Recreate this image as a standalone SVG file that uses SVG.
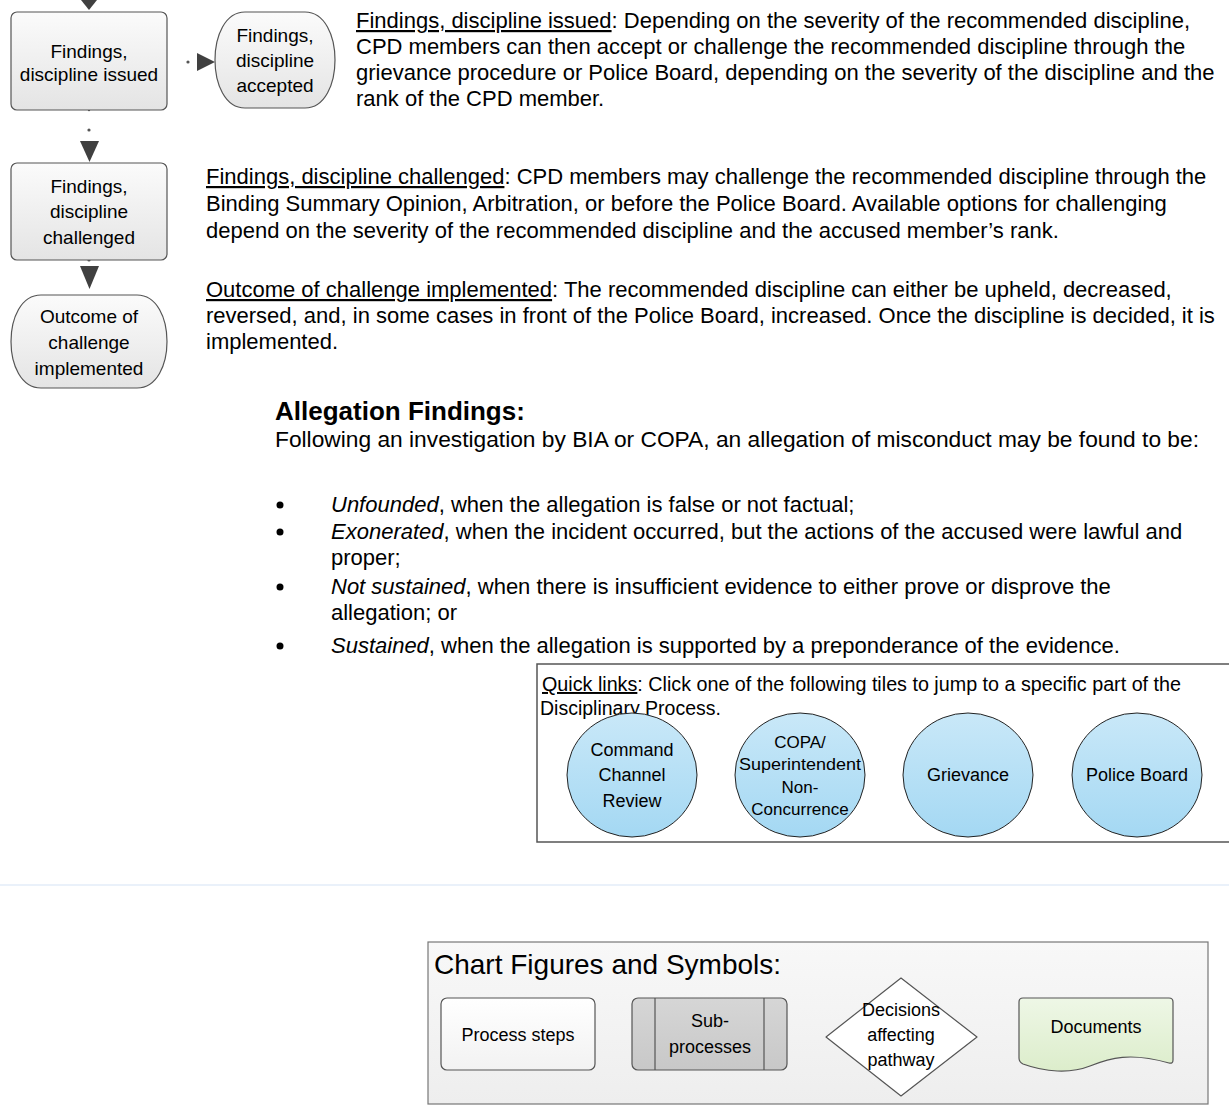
<svg xmlns="http://www.w3.org/2000/svg" width="1229" height="1106" viewBox="0 0 1229 1106">
<defs>
<linearGradient id="gBox" x1="0" y1="0" x2="0" y2="1"><stop offset="0" stop-color="#fbfbfb"/><stop offset="1" stop-color="#e4e4e4"/></linearGradient>
<linearGradient id="gSub" x1="0" y1="0" x2="0" y2="1"><stop offset="0" stop-color="#d6d6d6"/><stop offset="1" stop-color="#c8c8c8"/></linearGradient>
<linearGradient id="gDoc" x1="0" y1="0" x2="0" y2="1"><stop offset="0" stop-color="#eef7e6"/><stop offset="1" stop-color="#dcedcb"/></linearGradient>
<linearGradient id="gEll" x1="0" y1="0" x2="0" y2="1"><stop offset="0" stop-color="#c9e8f8"/><stop offset="1" stop-color="#a4d8f3"/></linearGradient>
<linearGradient id="gPanel" x1="0" y1="0" x2="0" y2="1"><stop offset="0" stop-color="#f8f8f8"/><stop offset="1" stop-color="#eeeeee"/></linearGradient>
<linearGradient id="gWhite" x1="0" y1="0" x2="0" y2="1"><stop offset="0" stop-color="#ffffff"/><stop offset="1" stop-color="#f2f2f2"/></linearGradient>
</defs>
<style>
text{font-family:"Liberation Sans",Arial,sans-serif;fill:#000}
.node{font-size:19px;text-anchor:middle}
.para{font-size:22px}
.u{text-decoration:underline}
.shape{stroke:#555;stroke-width:1.2}
.ell{fill:url(#gEll);stroke:#222;stroke-width:1}
.etxt{font-size:18px;text-anchor:middle}
.ctxt{font-size:17px;text-anchor:middle}
.ql{font-size:19.5px}
.arrow{fill:#404040}
.dot{fill:#555}
</style>
<rect width="1229" height="1106" fill="#ffffff"/>

<g id="connectors">
<polygon class="arrow" points="81,0 97,0 89,10"/>
<circle class="dot" cx="188" cy="62" r="1.6"/>
<polygon class="arrow" points="197,53 197,71 215,62"/>
<circle class="dot" cx="89" cy="110" r="1.2"/>
<circle class="dot" cx="89" cy="130" r="1.6"/>
<polygon class="arrow" points="80,141 99,141 89.5,162"/>
<circle class="dot" cx="89" cy="260" r="1.6"/>
<polygon class="arrow" points="80,266 99,266 89.5,289"/>
</g>

<g id="node-issued">
<rect class="shape" x="11" y="12" width="156" height="98" rx="6" fill="url(#gBox)"/>
<text class="node" x="89" y="58">Findings,</text>
<text class="node" x="89" y="81">discipline issued</text>
</g>

<g id="node-accepted">
<path class="shape" d="M245,12 H305 C345,12 345,108 305,108 H245 C205,108 205,12 245,12 Z" fill="url(#gBox)"/>
<text class="node" x="275" y="42">Findings,</text>
<text class="node" x="275" y="67">discipline</text>
<text class="node" x="275" y="92">accepted</text>
</g>

<g id="node-challenged">
<rect class="shape" x="11" y="163" width="156" height="97" rx="6" fill="url(#gBox)"/>
<text class="node" x="89" y="193">Findings,</text>
<text class="node" x="89" y="218">discipline</text>
<text class="node" x="89" y="244">challenged</text>
</g>

<g id="node-outcome">
<path class="shape" d="M41,295 H137 C177,295 177,388 137,388 H41 C1,388 1,295 41,295 Z" fill="url(#gBox)"/>
<text class="node" x="89" y="323">Outcome of</text>
<text class="node" x="89" y="349">challenge</text>
<text class="node" x="89" y="375">implemented</text>
</g>

<g id="descriptions">
<text class="para" x="356" y="28"><tspan class="u">Findings, discipline issued</tspan>: Depending on the severity of the recommended discipline,</text>
<text class="para" x="356" y="54">CPD members can then accept or challenge the recommended discipline through the</text>
<text class="para" x="356" y="80">grievance procedure or Police Board, depending on the severity of the discipline and the</text>
<text class="para" x="356" y="106">rank of the CPD member.</text>

<text class="para" x="206" y="184"><tspan class="u">Findings, discipline challenged</tspan>: CPD members may challenge the recommended discipline through the</text>
<text class="para" x="206" y="211">Binding Summary Opinion, Arbitration, or before the Police Board. Available options for challenging</text>
<text class="para" x="206" y="238">depend on the severity of the recommended discipline and the accused member’s rank.</text>

<text class="para" x="206" y="297"><tspan class="u">Outcome of challenge implemented</tspan>: The recommended discipline can either be upheld, decreased,</text>
<text class="para" x="206" y="323">reversed, and, in some cases in front of the Police Board, increased. Once the discipline is decided, it is</text>
<text class="para" x="206" y="349">implemented.</text>
</g>

<g id="allegation-findings">
<text x="275" y="420" style="font-size:26px;font-weight:bold">Allegation Findings:</text>
<text class="para" x="275" y="447" textLength="924" lengthAdjust="spacingAndGlyphs">Following an investigation by BIA or COPA, an allegation of misconduct may be found to be:</text>
<circle cx="280" cy="505" r="3.5"/>
<text class="para" x="331" y="512"><tspan font-style="italic">Unfounded</tspan>, when the allegation is false or not factual;</text>
<circle cx="280" cy="532" r="3.5"/>
<text class="para" x="331" y="539"><tspan font-style="italic">Exonerated</tspan>, when the incident occurred, but the actions of the accused were lawful and</text>
<text class="para" x="331" y="565">proper;</text>
<circle cx="280" cy="587" r="3.5"/>
<text class="para" x="331" y="594"><tspan font-style="italic">Not sustained</tspan>, when there is insufficient evidence to either prove or disprove the</text>
<text class="para" x="331" y="620">allegation; or</text>
<circle cx="280" cy="646" r="3.5"/>
<text class="para" x="331" y="653"><tspan font-style="italic">Sustained</tspan>, when the allegation is supported by a preponderance of the evidence.</text>
</g>

<g id="quick-links">
<rect x="537" y="664" width="700" height="178" fill="#ffffff" stroke="#555" stroke-width="1.5"/>
<text class="ql" x="542" y="691" textLength="639" lengthAdjust="spacingAndGlyphs"><tspan class="u">Quick links</tspan>: Click one of the following tiles to jump to a specific part of the</text>
<text class="ql" x="540" y="715">Disciplinary Process.</text>
</g>
<g id="link-command">
<ellipse class="ell" cx="632" cy="775" rx="65" ry="62"/>
<text class="etxt" x="632" y="756">Command</text>
<text class="etxt" x="632" y="781">Channel</text>
<text class="etxt" x="632" y="807">Review</text>
</g>
<g id="link-copa">
<ellipse class="ell" cx="800" cy="775" rx="65" ry="62"/>
<text class="ctxt" x="800" y="748">COPA/</text>
<text class="ctxt" x="800" y="770" textLength="122" lengthAdjust="spacingAndGlyphs">Superintendent</text>
<text class="ctxt" x="800" y="793">Non-</text>
<text class="ctxt" x="800" y="815">Concurrence</text>
</g>
<g id="link-grievance">
<ellipse class="ell" cx="968" cy="775" rx="65" ry="62"/>
<text class="etxt" x="968" y="781">Grievance</text>
</g>
<g id="link-policeboard">
<ellipse class="ell" cx="1137" cy="775" rx="65" ry="62"/>
<text class="etxt" x="1137" y="781">Police Board</text>
</g>

<line x1="0" y1="885" x2="1229" y2="885" stroke="#e3edf8" stroke-width="1.5"/>

<g id="legend">
<rect x="428" y="942" width="780" height="162" fill="url(#gPanel)" stroke="#777" stroke-width="1.2"/>
<text x="434" y="974" style="font-size:28px">Chart Figures and Symbols:</text>
</g>
<g id="legend-process">
<rect class="shape" x="441" y="998" width="154" height="72" rx="6" fill="url(#gWhite)"/>
<text class="etxt" x="518" y="1041">Process steps</text>
</g>
<g id="legend-subprocess">
<rect class="shape" x="632" y="998" width="155" height="72" rx="6" fill="url(#gSub)"/>
<line x1="655" y1="998" x2="655" y2="1070" stroke="#555" stroke-width="1.2"/>
<line x1="764" y1="998" x2="764" y2="1070" stroke="#555" stroke-width="1.2"/>
<text class="etxt" x="710" y="1027">Sub-</text>
<text class="etxt" x="710" y="1053">processes</text>
</g>
<g id="legend-decision">
<path class="shape" d="M901,978 L977,1037 L901,1096 L826,1037 Z" fill="#ffffff" stroke-linejoin="round"/>
<text class="etxt" x="901" y="1016">Decisions</text>
<text class="etxt" x="901" y="1041">affecting</text>
<text class="etxt" x="901" y="1066">pathway</text>
</g>
<g id="legend-documents">
<path class="shape" d="M1023,998 H1169 Q1173,998 1173,1002 V1060 Q1173,1064 1169,1063 C1130,1052 1110,1058 1090,1066 C1070,1074 1045,1072 1023,1064 Q1019,1062 1019,1058 V1002 Q1019,998 1023,998 Z" fill="url(#gDoc)"/>
<text class="etxt" x="1096" y="1033">Documents</text>
</g>
</svg>
